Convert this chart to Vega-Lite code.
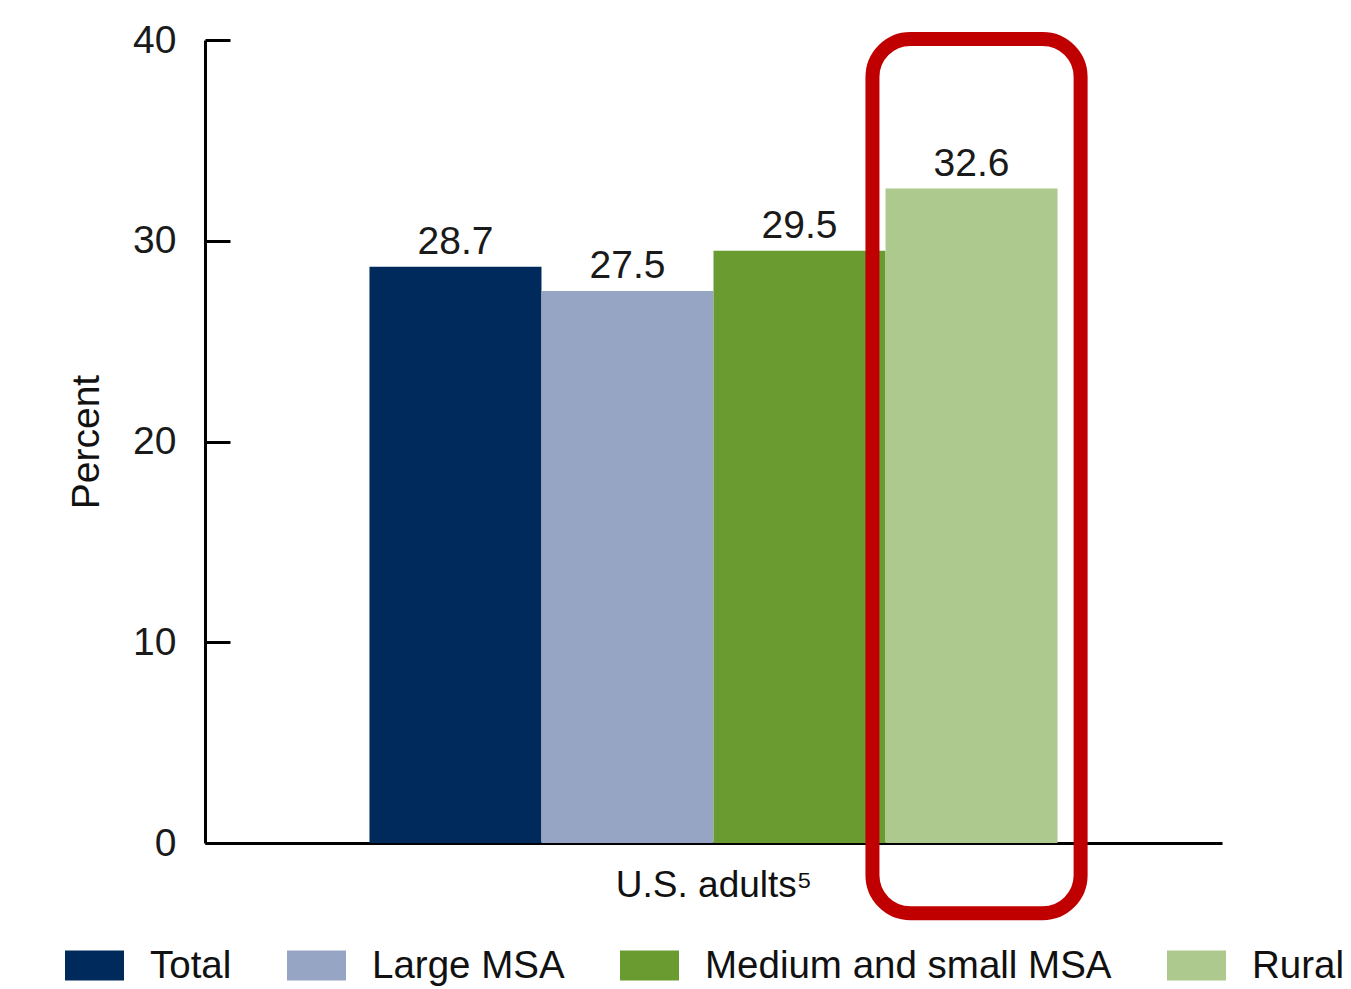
{
  "$schema": "https://vega.github.io/schema/vega-lite/v6.json",
  "width": 1017,
  "height": 803,
  "autosize": {"type": "none"},
  "padding": {"left": 205, "top": 40, "right": 129, "bottom": 146},
  "background": "white",
  "config": {
    "view": {"stroke": null},
    "font": "Liberation Sans",
    "axis": {"titleFontWeight": "normal", "titleColor": "#111111", "labelColor": "#1a1a1a"}
  },
  "data": {
    "values": [
      {"category": "Total", "percent": 28.7},
      {"category": "Large MSA", "percent": 27.5},
      {"category": "Medium and small MSA", "percent": 29.5},
      {"category": "Rural", "percent": 32.6}
    ]
  },
  "layer": [
    {
      "mark": {"type": "bar"},
      "encoding": {
        "x": {
          "field": "category", "type": "nominal", "sort": null,
          "scale": {"paddingInner": 0, "paddingOuter": 0.956},
          "axis": {
            "labels": false, "ticks": false, "domainColor": "black", "domainWidth": 3,
            "title": "U.S. adults⁵", "titleFontSize": 37, "titlePadding": 24
          }
        },
        "y": {
          "field": "percent", "type": "quantitative",
          "scale": {"domain": [0, 40], "nice": false},
          "axis": {
            "values": [0, 10, 20, 30, 40], "grid": false,
            "domainColor": "black", "domainWidth": 3,
            "tickColor": "black", "tickWidth": 3, "tickSize": -25,
            "labelFontSize": 39, "labelPadding": 54,
            "title": "Percent", "titleFontSize": 39, "titlePadding": 26
          }
        },
        "color": {
          "field": "category", "type": "nominal", "sort": null,
          "scale": {
            "domain": ["Total", "Large MSA", "Medium and small MSA", "Rural"],
            "range": ["#002a5c", "#97a5c4", "#6a9b31", "#aec98d"]
          },
          "legend": {
            "orient": "none", "direction": "horizontal",
            "legendX": -140, "legendY": 896,
            "title": null,
            "symbolType": "M-1,-0.51H1V0.51H-1Z",
            "symbolSize": 3481,
            "symbolStrokeWidth": 0,
            "symbolOpacity": 1,
            "labelFontSize": 38.5, "labelColor": "#111111",
            "labelOffset": 26, "columnPadding": 55,
            "labelLimit": 600
          }
        }
      }
    },
    {
      "mark": {"type": "text", "baseline": "alphabetic", "dy": -13, "fontSize": 39, "color": "#1a1a1a"},
      "encoding": {
        "x": {"field": "category", "type": "nominal", "sort": null},
        "y": {"field": "percent", "type": "quantitative"},
        "text": {"field": "percent", "type": "quantitative", "format": ".1f"}
      }
    },
    {
      "transform": [{"filter": "datum.category === 'Rural'"}],
      "mark": {
        "type": "rect", "filled": false, "stroke": "#c00000", "strokeWidth": 14,
        "cornerRadius": 38, "width": {"band": 1.21}, "xOffset": 5
      },
      "encoding": {
        "x": {"field": "category", "type": "nominal", "sort": null},
        "y": {"datum": 40.05},
        "y2": {"datum": -3.5}
      }
    }
  ]
}
